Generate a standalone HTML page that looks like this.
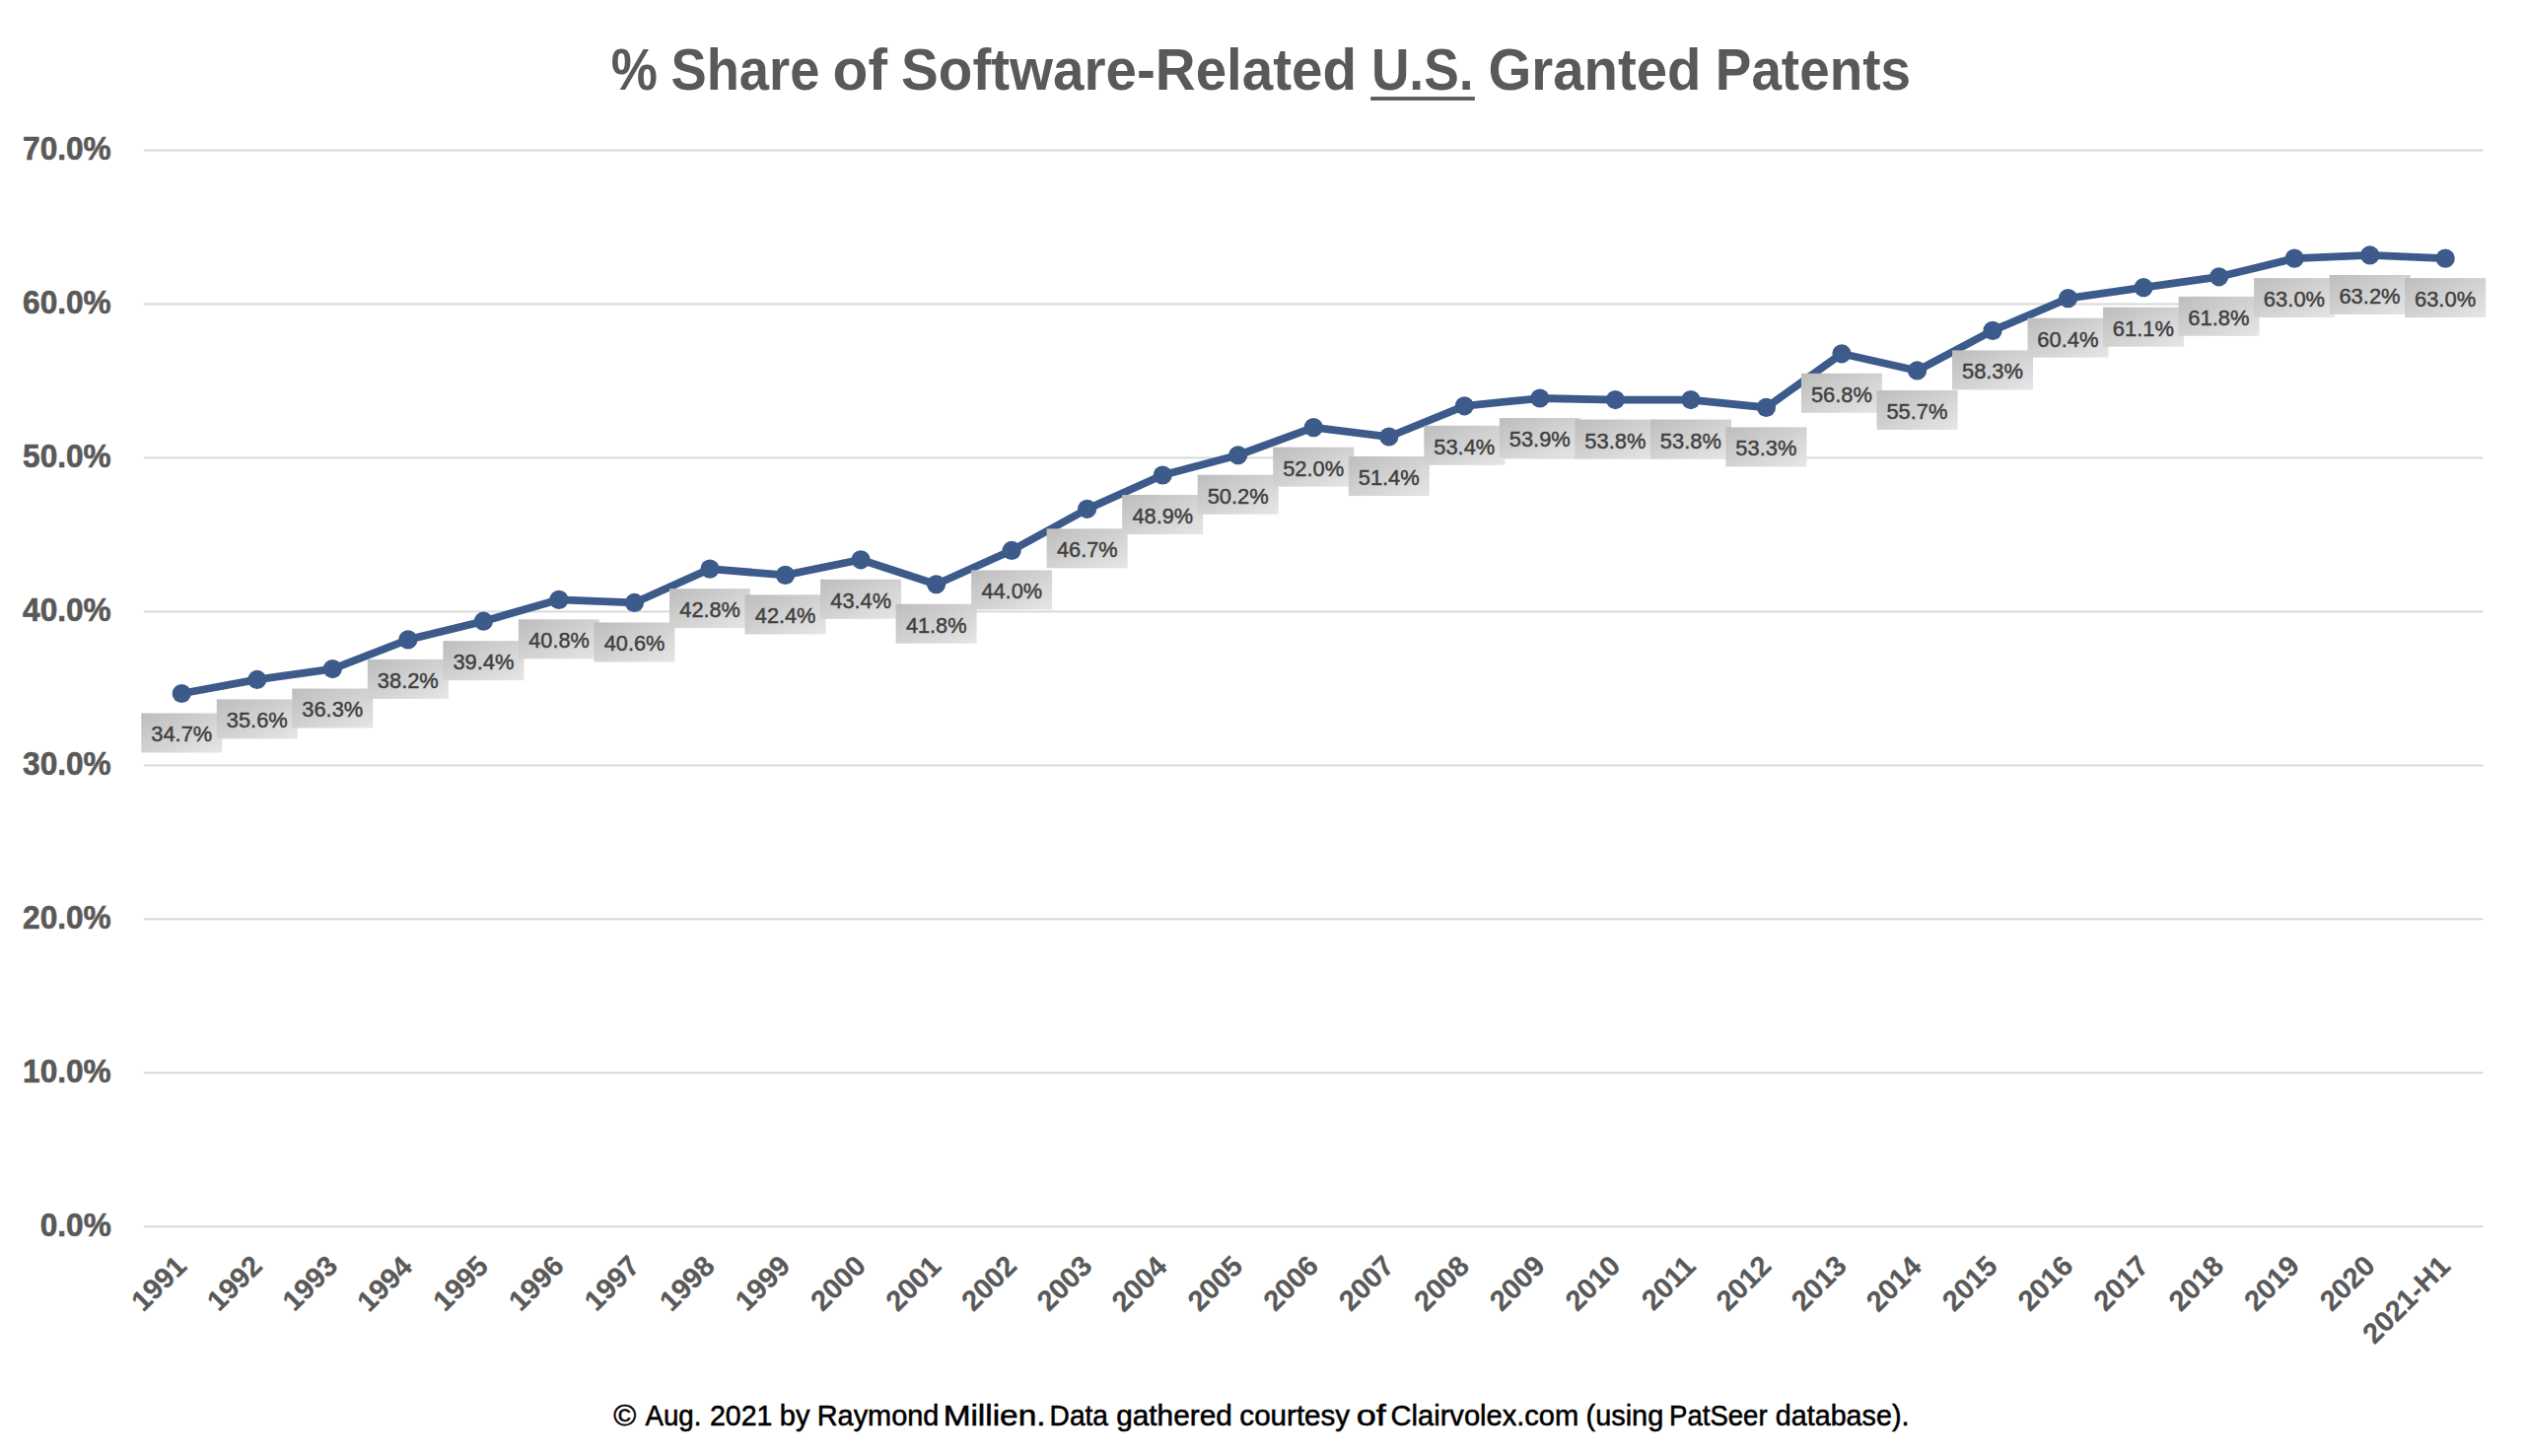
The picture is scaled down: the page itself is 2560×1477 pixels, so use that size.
<!DOCTYPE html><html><head><meta charset="utf-8"><style>html,body{margin:0;padding:0;background:#fff;}svg{display:block;font-family:"Liberation Sans",sans-serif;}</style></head><body>
<svg width="2560" height="1477" viewBox="0 0 2560 1477">
<defs><linearGradient id="g" x1="0" y1="0" x2="1" y2="1"><stop offset="0" stop-color="#bdbdbd"/><stop offset="1" stop-color="#e6e6e6"/></linearGradient></defs>
<rect width="2560" height="1477" fill="#fff"/>
<text transform="translate(619.77,90.70) scale(0.8832,1)" font-weight="bold" font-size="60.03" fill="#595959">%</text>
<text transform="translate(680.47,90.70) scale(0.9044,1)" font-weight="bold" font-size="60.03" fill="#595959">Share</text>
<text transform="translate(844.55,90.70) scale(0.9774,1)" font-weight="bold" font-size="60.03" fill="#595959">of</text>
<text transform="translate(914.10,90.70) scale(0.9425,1)" font-weight="bold" font-size="60.03" fill="#595959">Software-Related</text>
<text transform="translate(1390.90,90.70) scale(0.8875,1)" font-weight="bold" font-size="60.03" fill="#595959">U.S.</text>
<text transform="translate(1509.45,90.70) scale(0.9385,1)" font-weight="bold" font-size="60.03" fill="#595959">Granted</text>
<text transform="translate(1739.80,90.70) scale(0.9137,1)" font-weight="bold" font-size="60.03" fill="#595959">Patents</text>
<rect x="1390.2" y="98.1" width="105.6" height="3.8" fill="#595959"/>
<rect x="146" y="1243.30" width="2372.5" height="2" fill="#d9d9d9"/>
<rect x="146" y="1087.33" width="2372.5" height="2" fill="#d9d9d9"/>
<rect x="146" y="931.36" width="2372.5" height="2" fill="#d9d9d9"/>
<rect x="146" y="775.39" width="2372.5" height="2" fill="#d9d9d9"/>
<rect x="146" y="619.42" width="2372.5" height="2" fill="#d9d9d9"/>
<rect x="146" y="463.45" width="2372.5" height="2" fill="#d9d9d9"/>
<rect x="146" y="307.48" width="2372.5" height="2" fill="#d9d9d9"/>
<rect x="146" y="151.51" width="2372.5" height="2" fill="#d9d9d9"/>
<text transform="translate(40.70,1253.80) scale(0.9600,1)" font-weight="bold" font-size="32.97" fill="#595959" stroke="#595959" stroke-width="0.6">0.0%</text>
<text transform="translate(23.05,1097.83) scale(0.9600,1)" font-weight="bold" font-size="32.97" fill="#595959" stroke="#595959" stroke-width="0.6">10.0%</text>
<text transform="translate(23.05,941.86) scale(0.9600,1)" font-weight="bold" font-size="32.97" fill="#595959" stroke="#595959" stroke-width="0.6">20.0%</text>
<text transform="translate(23.05,785.89) scale(0.9600,1)" font-weight="bold" font-size="32.97" fill="#595959" stroke="#595959" stroke-width="0.6">30.0%</text>
<text transform="translate(23.05,629.92) scale(0.9600,1)" font-weight="bold" font-size="32.97" fill="#595959" stroke="#595959" stroke-width="0.6">40.0%</text>
<text transform="translate(23.05,473.95) scale(0.9600,1)" font-weight="bold" font-size="32.97" fill="#595959" stroke="#595959" stroke-width="0.6">50.0%</text>
<text transform="translate(23.05,317.98) scale(0.9600,1)" font-weight="bold" font-size="32.97" fill="#595959" stroke="#595959" stroke-width="0.6">60.0%</text>
<text transform="translate(23.05,162.01) scale(0.9600,1)" font-weight="bold" font-size="32.97" fill="#595959" stroke="#595959" stroke-width="0.6">70.0%</text>
<polyline fill="none" stroke="#3c5a8a" stroke-width="7.8" stroke-linejoin="round" stroke-linecap="round" points="184.27,703.48 260.80,689.45 337.33,678.53 413.86,648.89 490.40,630.18 566.93,608.34 643.46,611.46 719.99,577.15 796.52,583.39 873.06,567.79 949.59,592.75 1026.12,558.43 1102.65,516.32 1179.19,482.01 1255.72,461.73 1332.25,433.66 1408.78,443.01 1485.31,411.82 1561.85,404.02 1638.38,405.58 1714.91,405.58 1791.44,413.38 1867.98,358.79 1944.51,375.95 2021.04,335.39 2097.57,302.64 2174.10,291.72 2250.64,280.81 2327.17,262.09 2403.70,258.97 2480.23,262.09"/>
<circle cx="184.27" cy="703.48" r="9.6" fill="#3c5a8a"/>
<circle cx="260.80" cy="689.45" r="9.6" fill="#3c5a8a"/>
<circle cx="337.33" cy="678.53" r="9.6" fill="#3c5a8a"/>
<circle cx="413.86" cy="648.89" r="9.6" fill="#3c5a8a"/>
<circle cx="490.40" cy="630.18" r="9.6" fill="#3c5a8a"/>
<circle cx="566.93" cy="608.34" r="9.6" fill="#3c5a8a"/>
<circle cx="643.46" cy="611.46" r="9.6" fill="#3c5a8a"/>
<circle cx="719.99" cy="577.15" r="9.6" fill="#3c5a8a"/>
<circle cx="796.52" cy="583.39" r="9.6" fill="#3c5a8a"/>
<circle cx="873.06" cy="567.79" r="9.6" fill="#3c5a8a"/>
<circle cx="949.59" cy="592.75" r="9.6" fill="#3c5a8a"/>
<circle cx="1026.12" cy="558.43" r="9.6" fill="#3c5a8a"/>
<circle cx="1102.65" cy="516.32" r="9.6" fill="#3c5a8a"/>
<circle cx="1179.19" cy="482.01" r="9.6" fill="#3c5a8a"/>
<circle cx="1255.72" cy="461.73" r="9.6" fill="#3c5a8a"/>
<circle cx="1332.25" cy="433.66" r="9.6" fill="#3c5a8a"/>
<circle cx="1408.78" cy="443.01" r="9.6" fill="#3c5a8a"/>
<circle cx="1485.31" cy="411.82" r="9.6" fill="#3c5a8a"/>
<circle cx="1561.85" cy="404.02" r="9.6" fill="#3c5a8a"/>
<circle cx="1638.38" cy="405.58" r="9.6" fill="#3c5a8a"/>
<circle cx="1714.91" cy="405.58" r="9.6" fill="#3c5a8a"/>
<circle cx="1791.44" cy="413.38" r="9.6" fill="#3c5a8a"/>
<circle cx="1867.98" cy="358.79" r="9.6" fill="#3c5a8a"/>
<circle cx="1944.51" cy="375.95" r="9.6" fill="#3c5a8a"/>
<circle cx="2021.04" cy="335.39" r="9.6" fill="#3c5a8a"/>
<circle cx="2097.57" cy="302.64" r="9.6" fill="#3c5a8a"/>
<circle cx="2174.10" cy="291.72" r="9.6" fill="#3c5a8a"/>
<circle cx="2250.64" cy="280.81" r="9.6" fill="#3c5a8a"/>
<circle cx="2327.17" cy="262.09" r="9.6" fill="#3c5a8a"/>
<circle cx="2403.70" cy="258.97" r="9.6" fill="#3c5a8a"/>
<circle cx="2480.23" cy="262.09" r="9.6" fill="#3c5a8a"/>
<rect x="143.27" y="723.48" width="82" height="40" fill="url(#g)"/>
<text transform="translate(153.25,752.43) scale(0.9705,1)" font-weight="normal" font-size="22.53" fill="#404040" stroke="#404040" stroke-width="0.45">34.7%</text>
<rect x="219.80" y="709.45" width="82" height="40" fill="url(#g)"/>
<text transform="translate(229.78,738.40) scale(0.9705,1)" font-weight="normal" font-size="22.53" fill="#404040" stroke="#404040" stroke-width="0.45">35.6%</text>
<rect x="296.33" y="698.53" width="82" height="40" fill="url(#g)"/>
<text transform="translate(306.31,727.48) scale(0.9705,1)" font-weight="normal" font-size="22.53" fill="#404040" stroke="#404040" stroke-width="0.45">36.3%</text>
<rect x="372.86" y="668.89" width="82" height="40" fill="url(#g)"/>
<text transform="translate(382.84,697.84) scale(0.9705,1)" font-weight="normal" font-size="22.53" fill="#404040" stroke="#404040" stroke-width="0.45">38.2%</text>
<rect x="449.40" y="650.18" width="82" height="40" fill="url(#g)"/>
<text transform="translate(459.38,679.13) scale(0.9705,1)" font-weight="normal" font-size="22.53" fill="#404040" stroke="#404040" stroke-width="0.45">39.4%</text>
<rect x="525.93" y="628.34" width="82" height="40" fill="url(#g)"/>
<text transform="translate(536.24,657.29) scale(0.9652,1)" font-weight="normal" font-size="22.53" fill="#404040" stroke="#404040" stroke-width="0.45">40.8%</text>
<rect x="602.46" y="631.46" width="82" height="40" fill="url(#g)"/>
<text transform="translate(612.77,660.41) scale(0.9652,1)" font-weight="normal" font-size="22.53" fill="#404040" stroke="#404040" stroke-width="0.45">40.6%</text>
<rect x="678.99" y="597.15" width="82" height="40" fill="url(#g)"/>
<text transform="translate(689.30,626.10) scale(0.9652,1)" font-weight="normal" font-size="22.53" fill="#404040" stroke="#404040" stroke-width="0.45">42.8%</text>
<rect x="755.52" y="603.39" width="82" height="40" fill="url(#g)"/>
<text transform="translate(765.83,632.34) scale(0.9652,1)" font-weight="normal" font-size="22.53" fill="#404040" stroke="#404040" stroke-width="0.45">42.4%</text>
<rect x="832.06" y="587.79" width="82" height="40" fill="url(#g)"/>
<text transform="translate(842.37,616.74) scale(0.9652,1)" font-weight="normal" font-size="22.53" fill="#404040" stroke="#404040" stroke-width="0.45">43.4%</text>
<rect x="908.59" y="612.75" width="82" height="40" fill="url(#g)"/>
<text transform="translate(918.90,641.70) scale(0.9652,1)" font-weight="normal" font-size="22.53" fill="#404040" stroke="#404040" stroke-width="0.45">41.8%</text>
<rect x="985.12" y="578.43" width="82" height="40" fill="url(#g)"/>
<text transform="translate(995.43,607.38) scale(0.9652,1)" font-weight="normal" font-size="22.53" fill="#404040" stroke="#404040" stroke-width="0.45">44.0%</text>
<rect x="1061.65" y="536.32" width="82" height="40" fill="url(#g)"/>
<text transform="translate(1071.96,565.27) scale(0.9652,1)" font-weight="normal" font-size="22.53" fill="#404040" stroke="#404040" stroke-width="0.45">46.7%</text>
<rect x="1138.19" y="502.01" width="82" height="40" fill="url(#g)"/>
<text transform="translate(1148.50,530.96) scale(0.9652,1)" font-weight="normal" font-size="22.53" fill="#404040" stroke="#404040" stroke-width="0.45">48.9%</text>
<rect x="1214.72" y="481.73" width="82" height="40" fill="url(#g)"/>
<text transform="translate(1224.64,510.68) scale(0.9714,1)" font-weight="normal" font-size="22.53" fill="#404040" stroke="#404040" stroke-width="0.45">50.2%</text>
<rect x="1291.25" y="453.66" width="82" height="40" fill="url(#g)"/>
<text transform="translate(1301.17,482.61) scale(0.9714,1)" font-weight="normal" font-size="22.53" fill="#404040" stroke="#404040" stroke-width="0.45">52.0%</text>
<rect x="1367.78" y="463.01" width="82" height="40" fill="url(#g)"/>
<text transform="translate(1377.71,491.96) scale(0.9714,1)" font-weight="normal" font-size="22.53" fill="#404040" stroke="#404040" stroke-width="0.45">51.4%</text>
<rect x="1444.31" y="431.82" width="82" height="40" fill="url(#g)"/>
<text transform="translate(1454.24,460.77) scale(0.9714,1)" font-weight="normal" font-size="22.53" fill="#404040" stroke="#404040" stroke-width="0.45">53.4%</text>
<rect x="1520.85" y="424.02" width="82" height="40" fill="url(#g)"/>
<text transform="translate(1530.77,452.97) scale(0.9714,1)" font-weight="normal" font-size="22.53" fill="#404040" stroke="#404040" stroke-width="0.45">53.9%</text>
<rect x="1597.38" y="425.58" width="82" height="40" fill="url(#g)"/>
<text transform="translate(1607.30,454.53) scale(0.9714,1)" font-weight="normal" font-size="22.53" fill="#404040" stroke="#404040" stroke-width="0.45">53.8%</text>
<rect x="1673.91" y="425.58" width="82" height="40" fill="url(#g)"/>
<text transform="translate(1683.84,454.53) scale(0.9714,1)" font-weight="normal" font-size="22.53" fill="#404040" stroke="#404040" stroke-width="0.45">53.8%</text>
<rect x="1750.44" y="433.38" width="82" height="40" fill="url(#g)"/>
<text transform="translate(1760.37,462.33) scale(0.9714,1)" font-weight="normal" font-size="22.53" fill="#404040" stroke="#404040" stroke-width="0.45">53.3%</text>
<rect x="1826.98" y="378.79" width="82" height="40" fill="url(#g)"/>
<text transform="translate(1836.90,407.74) scale(0.9714,1)" font-weight="normal" font-size="22.53" fill="#404040" stroke="#404040" stroke-width="0.45">56.8%</text>
<rect x="1903.51" y="395.95" width="82" height="40" fill="url(#g)"/>
<text transform="translate(1913.43,424.90) scale(0.9714,1)" font-weight="normal" font-size="22.53" fill="#404040" stroke="#404040" stroke-width="0.45">55.7%</text>
<rect x="1980.04" y="355.39" width="82" height="40" fill="url(#g)"/>
<text transform="translate(1989.96,384.34) scale(0.9714,1)" font-weight="normal" font-size="22.53" fill="#404040" stroke="#404040" stroke-width="0.45">58.3%</text>
<rect x="2056.57" y="322.64" width="82" height="40" fill="url(#g)"/>
<text transform="translate(2066.27,351.59) scale(0.9749,1)" font-weight="normal" font-size="22.53" fill="#404040" stroke="#404040" stroke-width="0.45">60.4%</text>
<rect x="2133.10" y="311.72" width="82" height="40" fill="url(#g)"/>
<text transform="translate(2142.81,340.67) scale(0.9749,1)" font-weight="normal" font-size="22.53" fill="#404040" stroke="#404040" stroke-width="0.45">61.1%</text>
<rect x="2209.64" y="300.81" width="82" height="40" fill="url(#g)"/>
<text transform="translate(2219.34,329.76) scale(0.9749,1)" font-weight="normal" font-size="22.53" fill="#404040" stroke="#404040" stroke-width="0.45">61.8%</text>
<rect x="2286.17" y="282.09" width="82" height="40" fill="url(#g)"/>
<text transform="translate(2295.87,311.04) scale(0.9749,1)" font-weight="normal" font-size="22.53" fill="#404040" stroke="#404040" stroke-width="0.45">63.0%</text>
<rect x="2362.70" y="278.97" width="82" height="40" fill="url(#g)"/>
<text transform="translate(2372.40,307.92) scale(0.9749,1)" font-weight="normal" font-size="22.53" fill="#404040" stroke="#404040" stroke-width="0.45">63.2%</text>
<rect x="2439.23" y="282.09" width="82" height="40" fill="url(#g)"/>
<text transform="translate(2448.94,311.04) scale(0.9749,1)" font-weight="normal" font-size="22.53" fill="#404040" stroke="#404040" stroke-width="0.45">63.0%</text>
<g transform="translate(190.27,1286.70) rotate(-45)"><text transform="translate(-63.73,0) scale(1.0000,1)" font-weight="bold" font-size="29.00" fill="#595959" stroke="#595959" stroke-width="0.2">1991</text></g>
<g transform="translate(266.80,1286.70) rotate(-45)"><text transform="translate(-63.37,0) scale(1.0000,1)" font-weight="bold" font-size="29.00" fill="#595959" stroke="#595959" stroke-width="0.2">1992</text></g>
<g transform="translate(343.33,1286.70) rotate(-45)"><text transform="translate(-63.44,0) scale(1.0000,1)" font-weight="bold" font-size="29.00" fill="#595959" stroke="#595959" stroke-width="0.2">1993</text></g>
<g transform="translate(419.86,1286.70) rotate(-45)"><text transform="translate(-64.38,0) scale(1.0000,1)" font-weight="bold" font-size="29.00" fill="#595959" stroke="#595959" stroke-width="0.2">1994</text></g>
<g transform="translate(496.40,1286.70) rotate(-45)"><text transform="translate(-63.73,0) scale(1.0000,1)" font-weight="bold" font-size="29.00" fill="#595959" stroke="#595959" stroke-width="0.2">1995</text></g>
<g transform="translate(572.93,1286.70) rotate(-45)"><text transform="translate(-63.44,0) scale(1.0000,1)" font-weight="bold" font-size="29.00" fill="#595959" stroke="#595959" stroke-width="0.2">1996</text></g>
<g transform="translate(649.46,1286.70) rotate(-45)"><text transform="translate(-63.22,0) scale(1.0000,1)" font-weight="bold" font-size="29.00" fill="#595959" stroke="#595959" stroke-width="0.2">1997</text></g>
<g transform="translate(725.99,1286.70) rotate(-45)"><text transform="translate(-63.65,0) scale(1.0000,1)" font-weight="bold" font-size="29.00" fill="#595959" stroke="#595959" stroke-width="0.2">1998</text></g>
<g transform="translate(802.52,1286.70) rotate(-45)"><text transform="translate(-63.44,0) scale(1.0000,1)" font-weight="bold" font-size="29.00" fill="#595959" stroke="#595959" stroke-width="0.2">1999</text></g>
<g transform="translate(879.06,1286.70) rotate(-45)"><text transform="translate(-63.29,0) scale(1.0000,1)" font-weight="bold" font-size="29.00" fill="#595959" stroke="#595959" stroke-width="0.2">2000</text></g>
<g transform="translate(955.59,1286.70) rotate(-45)"><text transform="translate(-63.73,0) scale(1.0000,1)" font-weight="bold" font-size="29.00" fill="#595959" stroke="#595959" stroke-width="0.2">2001</text></g>
<g transform="translate(1032.12,1286.70) rotate(-45)"><text transform="translate(-63.37,0) scale(1.0000,1)" font-weight="bold" font-size="29.00" fill="#595959" stroke="#595959" stroke-width="0.2">2002</text></g>
<g transform="translate(1108.65,1286.70) rotate(-45)"><text transform="translate(-63.44,0) scale(1.0000,1)" font-weight="bold" font-size="29.00" fill="#595959" stroke="#595959" stroke-width="0.2">2003</text></g>
<g transform="translate(1185.19,1286.70) rotate(-45)"><text transform="translate(-64.38,0) scale(1.0000,1)" font-weight="bold" font-size="29.00" fill="#595959" stroke="#595959" stroke-width="0.2">2004</text></g>
<g transform="translate(1261.72,1286.70) rotate(-45)"><text transform="translate(-63.73,0) scale(1.0000,1)" font-weight="bold" font-size="29.00" fill="#595959" stroke="#595959" stroke-width="0.2">2005</text></g>
<g transform="translate(1338.25,1286.70) rotate(-45)"><text transform="translate(-63.44,0) scale(1.0000,1)" font-weight="bold" font-size="29.00" fill="#595959" stroke="#595959" stroke-width="0.2">2006</text></g>
<g transform="translate(1414.78,1286.70) rotate(-45)"><text transform="translate(-63.22,0) scale(1.0000,1)" font-weight="bold" font-size="29.00" fill="#595959" stroke="#595959" stroke-width="0.2">2007</text></g>
<g transform="translate(1491.31,1286.70) rotate(-45)"><text transform="translate(-63.65,0) scale(1.0000,1)" font-weight="bold" font-size="29.00" fill="#595959" stroke="#595959" stroke-width="0.2">2008</text></g>
<g transform="translate(1567.85,1286.70) rotate(-45)"><text transform="translate(-63.44,0) scale(1.0000,1)" font-weight="bold" font-size="29.00" fill="#595959" stroke="#595959" stroke-width="0.2">2009</text></g>
<g transform="translate(1644.38,1286.70) rotate(-45)"><text transform="translate(-63.29,0) scale(1.0000,1)" font-weight="bold" font-size="29.00" fill="#595959" stroke="#595959" stroke-width="0.2">2010</text></g>
<g transform="translate(1720.91,1286.70) rotate(-45)"><text transform="translate(-62.13,0) scale(1.0000,1)" font-weight="bold" font-size="29.00" fill="#595959" stroke="#595959" stroke-width="0.2">2011</text></g>
<g transform="translate(1797.44,1286.70) rotate(-45)"><text transform="translate(-63.37,0) scale(1.0000,1)" font-weight="bold" font-size="29.00" fill="#595959" stroke="#595959" stroke-width="0.2">2012</text></g>
<g transform="translate(1873.98,1286.70) rotate(-45)"><text transform="translate(-63.44,0) scale(1.0000,1)" font-weight="bold" font-size="29.00" fill="#595959" stroke="#595959" stroke-width="0.2">2013</text></g>
<g transform="translate(1950.51,1286.70) rotate(-45)"><text transform="translate(-64.38,0) scale(1.0000,1)" font-weight="bold" font-size="29.00" fill="#595959" stroke="#595959" stroke-width="0.2">2014</text></g>
<g transform="translate(2027.04,1286.70) rotate(-45)"><text transform="translate(-63.73,0) scale(1.0000,1)" font-weight="bold" font-size="29.00" fill="#595959" stroke="#595959" stroke-width="0.2">2015</text></g>
<g transform="translate(2103.57,1286.70) rotate(-45)"><text transform="translate(-63.44,0) scale(1.0000,1)" font-weight="bold" font-size="29.00" fill="#595959" stroke="#595959" stroke-width="0.2">2016</text></g>
<g transform="translate(2180.10,1286.70) rotate(-45)"><text transform="translate(-63.22,0) scale(1.0000,1)" font-weight="bold" font-size="29.00" fill="#595959" stroke="#595959" stroke-width="0.2">2017</text></g>
<g transform="translate(2256.64,1286.70) rotate(-45)"><text transform="translate(-63.65,0) scale(1.0000,1)" font-weight="bold" font-size="29.00" fill="#595959" stroke="#595959" stroke-width="0.2">2018</text></g>
<g transform="translate(2333.17,1286.70) rotate(-45)"><text transform="translate(-63.44,0) scale(1.0000,1)" font-weight="bold" font-size="29.00" fill="#595959" stroke="#595959" stroke-width="0.2">2019</text></g>
<g transform="translate(2409.70,1286.70) rotate(-45)"><text transform="translate(-63.29,0) scale(1.0000,1)" font-weight="bold" font-size="29.00" fill="#595959" stroke="#595959" stroke-width="0.2">2020</text></g>
<g transform="translate(2486.23,1286.70) rotate(-45)"><text transform="translate(-110.42,0) scale(1.0000,1)" font-weight="bold" font-size="29.00" fill="#595959" stroke="#595959" stroke-width="0.2">2021-H1</text></g>
<text transform="translate(622.33,1445.70) scale(1.0473,1)" font-weight="normal" font-size="29.80" fill="#000000" stroke="#000000" stroke-width="0.55">©</text>
<text transform="translate(654.53,1445.70) scale(0.9286,1)" font-weight="normal" font-size="29.80" fill="#000000" stroke="#000000" stroke-width="0.55">Aug.</text>
<text transform="translate(719.97,1445.70) scale(0.9571,1)" font-weight="normal" font-size="29.80" fill="#000000" stroke="#000000" stroke-width="0.55">2021</text>
<text transform="translate(790.82,1445.70) scale(0.9720,1)" font-weight="normal" font-size="29.80" fill="#000000" stroke="#000000" stroke-width="0.55">by</text>
<text transform="translate(828.72,1445.70) scale(0.9697,1)" font-weight="normal" font-size="29.80" fill="#000000" stroke="#000000" stroke-width="0.55">Raymond</text>
<text transform="translate(956.64,1445.70) scale(1.1208,1)" font-weight="normal" font-size="29.80" fill="#000000" stroke="#000000" stroke-width="0.55">Millien.</text>
<text transform="translate(1064.58,1445.70) scale(0.9440,1)" font-weight="normal" font-size="29.80" fill="#000000" stroke="#000000" stroke-width="0.55">Data</text>
<text transform="translate(1132.13,1445.70) scale(1.0007,1)" font-weight="normal" font-size="29.80" fill="#000000" stroke="#000000" stroke-width="0.55">gathered</text>
<text transform="translate(1257.34,1445.70) scale(0.9929,1)" font-weight="normal" font-size="29.80" fill="#000000" stroke="#000000" stroke-width="0.55">courtesy</text>
<text transform="translate(1375.67,1445.70) scale(1.2069,1)" font-weight="normal" font-size="29.80" fill="#000000" stroke="#000000" stroke-width="0.55">of</text>
<text transform="translate(1410.55,1445.70) scale(0.9766,1)" font-weight="normal" font-size="29.80" fill="#000000" stroke="#000000" stroke-width="0.55">Clairvolex.com</text>
<text transform="translate(1608.49,1445.70) scale(0.9716,1)" font-weight="normal" font-size="29.80" fill="#000000" stroke="#000000" stroke-width="0.55">(using</text>
<text transform="translate(1693.03,1445.70) scale(0.9252,1)" font-weight="normal" font-size="29.80" fill="#000000" stroke="#000000" stroke-width="0.55">PatSeer</text>
<text transform="translate(1800.78,1445.70) scale(0.9639,1)" font-weight="normal" font-size="29.80" fill="#000000" stroke="#000000" stroke-width="0.55">database).</text>
</svg></body></html>
